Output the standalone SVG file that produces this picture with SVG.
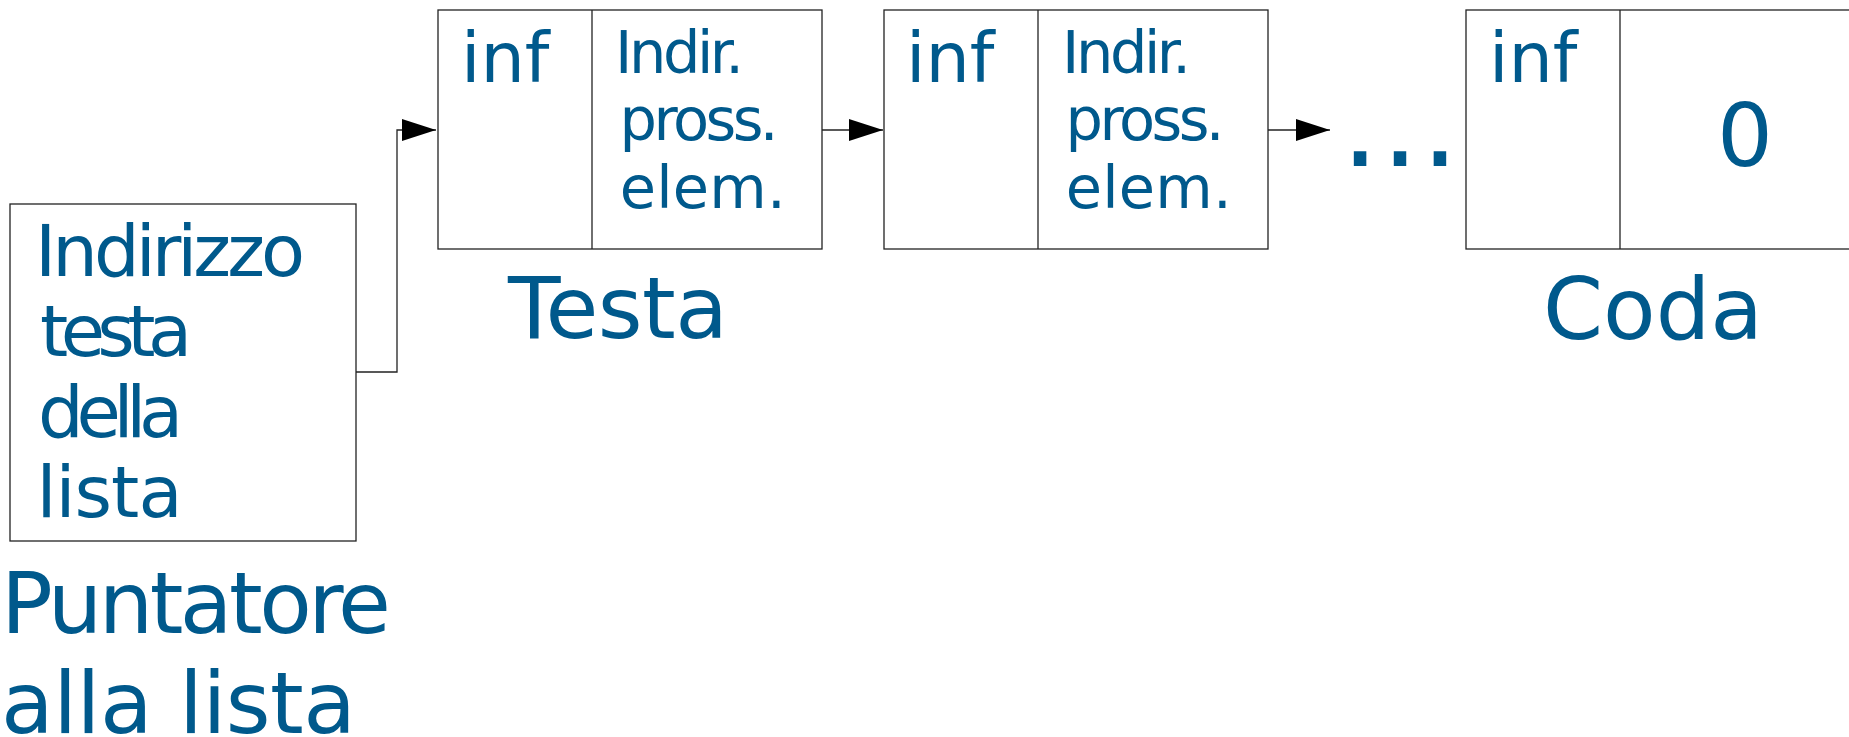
<svg xmlns="http://www.w3.org/2000/svg" width="1849" height="737" viewBox="0 0 1849 737">
<style>
.box{fill:#fff;stroke:#222;stroke-width:1.3}
.ln{fill:none;stroke:#222;stroke-width:1.3}
text{font-family:"DejaVu Sans",Verdana,sans-serif;fill:#00598c}
.f59{font-size:59px}
.f70{font-size:70px}
.f72{font-size:72px}
.f86{font-size:86px}
</style>
<defs>
<marker id="ah" markerUnits="userSpaceOnUse" markerWidth="36" markerHeight="24" refX="34" refY="11" orient="auto">
<path d="M0,0 L34,11 L0,22 Z" fill="#000"/>
</marker>
</defs>
<rect width="1849" height="737" fill="#fff"/>
<g id="connectors">
<path class="ln" d="M356,372 H397 V130 H436" marker-end="url(#ah)"/>
<path class="ln" d="M822,130 H883" marker-end="url(#ah)"/>
<path class="ln" d="M1268,130 H1330" marker-end="url(#ah)"/>
</g>
<g id="pointer">
<rect class="box" x="10" y="204" width="346" height="337"/>
<text class="f72" x="35" y="276" textLength="270" lengthAdjust="spacing">Indirizzo</text>
<text class="f72" x="40" y="356" textLength="152" lengthAdjust="spacing">testa</text>
<text class="f72" x="38" y="437" textLength="145" lengthAdjust="spacing">della</text>
<text class="f72" x="36.5" y="517" textLength="146" lengthAdjust="spacing">lista</text>
<text class="f86" x="1" y="633" textLength="390" lengthAdjust="spacing">Puntatore</text>
<text class="f86" x="1" y="733" textLength="355" lengthAdjust="spacing">alla lista</text>
</g>
<g id="head">
<rect class="box" x="438" y="10" width="384" height="239"/>
<line class="ln" x1="592" y1="10" x2="592" y2="249"/>
<text class="f70" x="461" y="82">inf</text>
<text class="f59" x="615" y="73" textLength="129" lengthAdjust="spacing">Indir.</text>
<text class="f59" x="619.6" y="140" textLength="159" lengthAdjust="spacing">pross.</text>
<text class="f59" x="619.7" y="208" textLength="166" lengthAdjust="spacing">elem.</text>
<text class="f86" x="508" y="338" textLength="220" lengthAdjust="spacing">Testa</text>
</g>
<g id="second">
<rect class="box" x="884" y="10" width="384" height="239"/>
<line class="ln" x1="1038" y1="10" x2="1038" y2="249"/>
<text class="f70" x="906" y="82">inf</text>
<text class="f59" x="1062" y="73" textLength="129" lengthAdjust="spacing">Indir.</text>
<text class="f59" x="1065.6" y="140" textLength="159" lengthAdjust="spacing">pross.</text>
<text class="f59" x="1065.7" y="208" textLength="166" lengthAdjust="spacing">elem.</text>
</g>
<g id="ellipsis">
<text x="1340" y="166" style="font-size:120px">…</text>
</g>
<g id="tail">
<rect class="box" x="1466" y="10" width="420" height="239"/>
<line class="ln" x1="1620" y1="10" x2="1620" y2="249"/>
<text class="f70" x="1489" y="82">inf</text>
<text x="1745" y="166" text-anchor="middle" style="font-size:88px">0</text>
<text class="f86" x="1543" y="339">Coda</text>
</g>
</svg>
